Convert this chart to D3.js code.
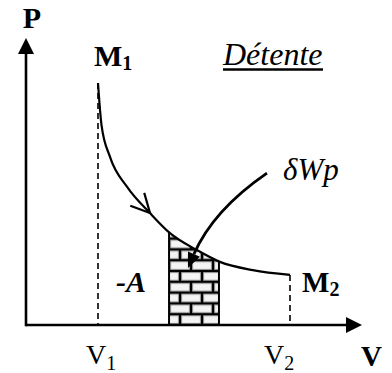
<!DOCTYPE html>
<html><head><meta charset="utf-8">
<script src="https://cdn.jsdelivr.net/npm/d3@7"></script>
<style>html,body{margin:0;padding:0;background:#fff;}svg{display:block;}</style>
</head><body>
<svg id="chart" width="392" height="373"></svg>
<script>
// ---- data ----
const curveV = [2.25, 2.36, 2.625, 3.16, 3.875, 4.5, 5.34, 6.06, 7.09, 8.25];
const curveP = [7.59, 6.27, 5.27, 4.33, 3.51, 2.88, 2.35, 1.98, 1.72, 1.57];
const stripV = [4.47, 6.03];           // elementary work strip (bricks)
const V1 = 2.25, V2 = 8.25;
const arrowIndex = 4;                  // curve direction arrow at this point
const deltaArrowV = [7.53, 5.85, 5.06]; // start, control, tip
const deltaArrowP = [4.76, 3.6, 1.79];
const labels = {P:"P", V:"V", M1:"M", M2:"M", A:"-A", title:"Détente", dW:"δWp"};

const svg = d3.select("#chart");
const x = d3.scaleLinear().domain([0, 10.5]).range([26, 362]);
const y = d3.scaleLinear().domain([0, 9]).range([325, 38]);
const pts = curveV.map((v,i)=>[v, curveP[i]]);
const serif = "Liberation Serif";

// bricks pattern
const defs = svg.append("defs");
const bw = 22, bh = 10.8;
const pat = defs.append("pattern").attr("id","bricks").attr("patternUnits","userSpaceOnUse")
  .attr("x", x(stripV[0])).attr("y", y(0)).attr("width", bw).attr("height", bh*2);
pat.append("rect").attr("width", bw).attr("height", bh*2).attr("fill","#000");
const brick = (bx, by) => {
  pat.append("rect").attr("x", bx+1.6).attr("y", by+1.6).attr("width", bw-3.2).attr("height", bh-3.2)
    .attr("fill","#f4f4f4").attr("stroke","#999").attr("stroke-width",1);
};
brick(0, 0); brick(-bw/2, bh); brick(bw/2, bh);

const clip = defs.append("clipPath").attr("id","stripClip");
clip.append("rect").attr("x", x(stripV[0])).attr("y", 0)
  .attr("width", x(stripV[1]) - x(stripV[0])).attr("height", 400);

const area = d3.area().x(d=>x(d[0])).y0(y(0)).y1(d=>y(d[1])).curve(d3.curveMonotoneX);
svg.append("path").datum(pts).attr("d", area).attr("fill","url(#bricks)")
  .attr("clip-path","url(#stripClip)");
[stripV[0], stripV[1]].forEach(v=>{
  svg.append("line").attr("x1",x(v)).attr("x2",x(v)).attr("y1",y(0))
    .attr("y2", y(d3.scaleLinear().domain(curveV).range(curveP)(v)) )
    .attr("stroke","#000").attr("stroke-width",2);
});

// dashed verticals
svg.append("line").attr("x1",x(V1)).attr("x2",x(V1)).attr("y1",y(curveP[0])).attr("y2",y(0))
  .attr("stroke","#000").attr("stroke-width",1.6).attr("stroke-dasharray","6,4");
svg.append("line").attr("x1",x(V2)).attr("x2",x(V2)).attr("y1",y(curveP[curveP.length-1])).attr("y2",y(0))
  .attr("stroke","#000").attr("stroke-width",1.6).attr("stroke-dasharray","6,4");

// curve
const line = d3.line().x(d=>x(d[0])).y(d=>y(d[1])).curve(d3.curveMonotoneX);
svg.append("path").datum(pts).attr("d", line).attr("fill","none").attr("stroke","#000").attr("stroke-width",2.2);

// open chevron arrow on curve
{
  const p = pts[arrowIndex], pa = pts[arrowIndex-1], pb = pts[arrowIndex+1];
  const tx = x(pb[0]) - x(pa[0]), ty = y(pb[1]) - y(pa[1]);
  const ang = Math.atan2(ty, tx) + Math.PI;
  const cx = x(p[0]), cy = y(p[1]), L = 21, s = 0.47;
  const a1 = [cx + L*Math.cos(ang+s), cy + L*Math.sin(ang+s)];
  const a2 = [cx + L*Math.cos(ang-s), cy + L*Math.sin(ang-s)];
  svg.append("path").attr("d", `M${a1}L${cx},${cy}L${a2}`).attr("fill","none")
    .attr("stroke","#000").attr("stroke-width",2.2);
}

// delta W arrow
{
  const s = [x(deltaArrowV[0]), y(deltaArrowP[0])], c = [x(deltaArrowV[1]), y(deltaArrowP[1])],
        t = [x(deltaArrowV[2]), y(deltaArrowP[2])];
  const ang = Math.atan2(t[1]-c[1], t[0]-c[0]);
  const L = 15, W = 6.5;
  const b = [t[0]-L*Math.cos(ang), t[1]-L*Math.sin(ang)];
  svg.append("path").attr("d", `M${s}Q${c} ${b}`).attr("fill","none").attr("stroke","#000").attr("stroke-width",2.8);
  const p1 = [b[0] + W*Math.sin(ang), b[1] - W*Math.cos(ang)];
  const p2 = [b[0] - W*Math.sin(ang), b[1] + W*Math.cos(ang)];
  svg.append("path").attr("d", `M${t}L${p1}L${p2}Z`).attr("fill","#000");
}

// axes
svg.append("line").attr("x1",x(0)).attr("x2",x(0)).attr("y1",y(0)+1.3).attr("y2",y(8.5)).attr("stroke","#000").attr("stroke-width",2.6);
svg.append("path").attr("d",`M${x(0)},${y(9)}L${x(0)-8},${y(9)+16}L${x(0)+8},${y(9)+16}Z`).attr("fill","#000");
svg.append("line").attr("x1",x(0)).attr("x2",x(10.1)).attr("y1",y(0)).attr("y2",y(0)).attr("stroke","#000").attr("stroke-width",2.6);
svg.append("path").attr("d",`M${x(10.5)},${y(0)}L${x(10.5)-16},${y(0)-8}L${x(10.5)-16},${y(0)+8}Z`).attr("fill","#000");

// labels
const T = (tx, ty, txt, size, weight, style) => svg.append("text").attr("x",tx).attr("y",ty)
  .attr("font-family",serif).attr("font-size",size).attr("font-weight",weight||"normal")
  .attr("font-style",style||"normal").attr("fill","#000").text(txt);

T(32, 28, labels.P, 30, "bold").attr("text-anchor","middle");
T(361, 366, labels.V, 29, "bold");
const v1 = T(86, 364, "V", 28); v1.append("tspan").attr("font-size",20).attr("dy",6).text("1");
const v2 = T(264, 364, "V", 28); v2.append("tspan").attr("font-size",20).attr("dy",6).text("2");
const m1 = T(94, 66, labels.M1, 30, "bold"); m1.append("tspan").attr("font-size",20).attr("dy",4).text("1");
const m2 = T(302, 292, labels.M2, 29, "bold"); m2.append("tspan").attr("font-size",20).attr("dy",4).text("2");
T(116, 292, labels.A, 30, "bold", "italic");
T(223, 65, labels.title, 32, "normal", "italic");
svg.append("line").attr("x1",223).attr("x2",323).attr("y1",69.5).attr("y2",69.5).attr("stroke","#000").attr("stroke-width",2.4);
T(283, 180, labels.dW, 31, "normal", "italic");
</script>
</body></html>
